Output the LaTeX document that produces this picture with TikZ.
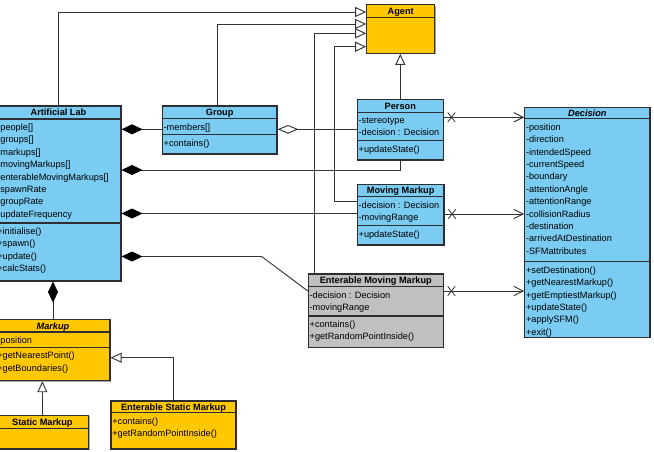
\documentclass[tikz,border=0pt]{standalone}
\usepackage{fontspec}
\setmainfont{Liberation Sans}
\usetikzlibrary{arrows.meta, positioning, fit, shapes.misc, shadows}
\definecolor{clsblue}{RGB}{122,204,242}
\definecolor{clsyellow}{RGB}{255,200,0}
\definecolor{clsgray}{RGB}{192,192,192}
\definecolor{edgegray}{RGB}{45,45,50}
\tikzset{
  cls/.style   = {draw=edgegray, line width=0.8pt, inner sep=0pt,
                  drop shadow={shadow xshift=0.8pt, shadow yshift=-0.8pt,
                               fill=black, opacity=0.35}},
  ttl/.style   = {font=\fontsize{6.9}{9.3}\selectfont\bfseries, anchor=base, inner sep=0pt},
  rows/.style  = {font=\fontsize{6.9}{9.3}\selectfont, anchor=north west, align=left,
                  inner sep=0pt, xshift=1.2pt,
                  execute at begin node={\rule{0pt}{5.2pt}}},
  sep/.style   = {draw=edgegray, line width=0.8pt},
  link/.style  = {draw=black!80, line width=0.7pt},
  inh/.style   = {link, -{Triangle[open, fill=white, length=8.25pt, width=7.5pt]}},
  comp/.style  = {link, {Diamond[color=black, length=15.75pt, width=7.5pt]}-},
  aggr/.style  = {link, {Diamond[open, fill=white, length=15.75pt, width=6.5pt]}-},
  nav/.style   = {link, -{Straight Barb[length=7pt, width=7pt]}},
  xmark/.style = {cross out, draw=black!80, line width=0.6pt,
                  minimum width=5pt, minimum height=6.5pt, inner sep=0pt},
}

\begin{document}
\begin{tikzpicture}[x=0.75pt, y=-0.75pt]
  \useasboundingbox (0,0) rectangle (654,451);
  \clip (0,0) rectangle (654,451);

  % class boxes
  \node[cls, fill=clsblue, fit={(-4,106) (121,281)}] (lab) {};
  \draw[sep] (lab.west |- 0,119) -- (lab.east |- 0,119);
  \draw[sep] (lab.west |- 0,223) -- (lab.east |- 0,223);
  \node[ttl] at (lab.north |- 0,115.8) {Artificial Lab};
  \node[rows] at (lab.west |- 0,123.6) {-people[]\\-groups[]\\-markups[]\\-movingMarkups[]\\
    -enterableMovingMarkups[]\\-spawnRate\\-groupRate\\-updateFrequency};
  \node[rows] at (lab.west |- 0,227.6) {+initialise()\\+spawn()\\+update()\\+calcStats()};

  \node[cls, fill=clsblue, fit={(162.3,106) (277,154)}] (grp) {};
  \draw[sep] (grp.west |- 0,118.3) -- (grp.east |- 0,118.3);
  \draw[sep] (grp.west |- 0,134.7) -- (grp.east |- 0,134.7);
  \node[ttl] at (grp.north |- 0,115.5) {Group};
  \node[rows] at (grp.west |- 0,122.9) {-members[]};
  \node[rows] at (grp.west |- 0,139.3) {+contains()};

  \node[cls, fill=clsyellow, fit={(366.7,4.7) (434.7,53.3)}] (agent) {};
  \draw[sep] (agent.west |- 0,17.3) -- (agent.east |- 0,17.3);
  \node[ttl] at (agent.north |- 0,14.3) {Agent};

  \node[cls, fill=clsblue, fit={(357.3,99.3) (443.3,160)}] (person) {};
  \draw[sep] (person.west |- 0,112.7) -- (person.east |- 0,112.7);
  \draw[sep] (person.west |- 0,140.7) -- (person.east |- 0,140.7);
  \node[ttl] at (person.north |- 0,109.3) {Person};
  \node[rows] at (person.west |- 0,117.3) {-stereotype\\-decision : Decision};
  \node[rows] at (person.west |- 0,145.3) {+updateState()};

  \node[cls, fill=clsblue, fit={(357.3,184.3) (444,245)}] (mm) {};
  \draw[sep] (mm.west |- 0,196.7) -- (mm.east |- 0,196.7);
  \draw[sep] (mm.west |- 0,225.7) -- (mm.east |- 0,225.7);
  \node[ttl] at (mm.north |- 0,193.8) {Moving Markup};
  \node[rows] at (mm.west |- 0,201.3) {-decision : Decision\\-movingRange};
  \node[rows] at (mm.west |- 0,230.3) {+updateState()};

  \node[cls, fill=clsgray, fit={(308.3,274) (443.3,347.3)}] (emm) {};
  \draw[sep] (emm.west |- 0,286.7) -- (emm.east |- 0,286.7);
  \draw[sep] (emm.west |- 0,316) -- (emm.east |- 0,316);
  \node[ttl] at (emm.north |- 0,283.7) {Enterable Moving Markup};
  \node[rows] at (emm.west |- 0,291.3) {-decision : Decision\\-movingRange};
  \node[rows] at (emm.west |- 0,320.6) {+contains()\\+getRandomPointInside()};

  \node[cls, fill=clsblue, fit={(524.7,107.3) (650,337.3)}] (dec) {};
  \draw[sep] (dec.west |- 0,118.7) -- (dec.east |- 0,118.7);
  \draw[sep] (dec.west |- 0,261.7) -- (dec.east |- 0,261.7);
  \node[ttl, font=\fontsize{6.9}{9.3}\selectfont\bfseries\itshape] at (dec.north |- 0,116.3) {Decision};
  \node[rows] at (dec.west |- 0,123.3) {-position\\-direction\\-intendedSpeed\\-currentSpeed\\
    -boundary\\-attentionAngle\\-attentionRange\\-collisionRadius\\-destination\\
    -arrivedAtDestination\\-SFMattributes};
  \node[rows] at (dec.west |- 0,266.3) {+setDestination()\\+getNearestMarkup()\\
    +getEmptiestMarkup()\\+updateState()\\+applySFM()\\+exit()};

  \node[cls, fill=clsyellow, fit={(-4,319.3) (110,380.7)}] (markup) {};
  \draw[sep] (markup.west |- 0,332) -- (markup.east |- 0,332);
  \draw[sep] (markup.west |- 0,347.3) -- (markup.east |- 0,347.3);
  \node[ttl, font=\fontsize{6.9}{9.3}\selectfont\bfseries\itshape] at (markup.north |- 0,329) {Markup};
  \node[rows] at (markup.west |- 0,336.6) {-position};
  \node[rows] at (markup.west |- 0,351.9) {+getNearestPoint()\\+getBoundaries()};

  \node[cls, fill=clsyellow, fit={(-4,415.3) (88.7,449)}] (sm) {};
  \draw[sep] (sm.west |- 0,428.7) -- (sm.east |- 0,428.7);
  \node[ttl] at (sm.north |- 0,425.3) {Static Markup};

  \node[cls, fill=clsyellow, fit={(111,401) (236,449)}] (esm) {};
  \draw[sep] (esm.west |- 0,412.7) -- (esm.east |- 0,412.7);
  \node[ttl] at (esm.north |- 0,410.2) {Enterable Static Markup};
  \node[rows] at (esm.west |- 0,417.3) {+contains()\\+getRandomPointInside()};

  % generalisations
  \draw[inh] (lab.north) |- (agent.west |- 0,12);
  \draw[inh] (grp.north -| 217.7,0) |- (agent.west |- 0,24);
  \draw[inh] (emm.north -| 314.7,0) |- (agent.west |- 0,33.3);
  \draw[inh] (mm.west |- 0,201) -| (334,46.7) -- (agent.west |- 0,46.7);
  \draw[inh] (person.north) -- (person.north |- agent.south);
  \draw[inh] (sm.north) -- (sm.north |- markup.south);
  \draw[inh] (esm.north) |- (markup.east |- 0,357.7);

  % whole-part links
  \draw[comp] (lab.east |- 0,129.3) -- (grp.west |- 0,129.3);
  \draw[aggr] (grp.east |- 0,129.3) -- (person.west |- 0,129.3);
  \draw[comp] (lab.east |- 0,170) -| (person.south);
  \draw[comp] (lab.east |- 0,213.5) -- (mm.west |- 0,213.5);
  \draw[comp] (lab.east |- 0,256.5) -- (261.7,256.5) -- (emm.west |- 0,291);
  \draw[comp] (lab.south -| markup.north) -- (markup.north);

  % navigable links to Decision
  \draw[nav] (person.east |- 0,117.3) -- node[xmark, pos=.095] (xp) {} (dec.west |- 0,117.3);
  \draw[nav] (mm.east |- 0,214) -- node[xmark, pos=.095] (xm) {} (dec.west |- 0,214);
  \draw[nav] (emm.east |- 0,291) -- node[xmark, pos=.095] (xe) {} (dec.west |- 0,291);
\end{tikzpicture}
\end{document}
